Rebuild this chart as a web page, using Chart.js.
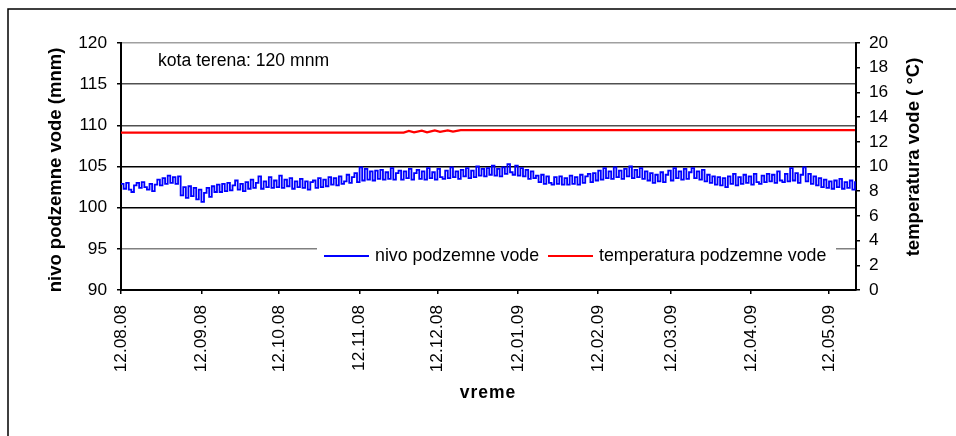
<!DOCTYPE html>
<html>
<head>
<meta charset="utf-8">
<script src="https://cdn.jsdelivr.net/npm/chart.js@4.4.1/dist/chart.umd.min.js"></script>
<style>
  html, body { margin: 0; padding: 0; background: #fff; }
  #wrap { width: 956px; height: 436px; position: relative; }
</style>
</head>
<body>
<div id="wrap"><canvas id="chart"></canvas></div>
<script>
// days counted from 12.08.2008
const tickDays = [0, 31, 61, 92, 122, 153, 184, 212, 243, 273];
const tickLabels = ['12.08.08', '12.09.08', '12.10.08', '12.11.08', '12.12.08',
                    '12.01.09', '12.02.09', '12.03.09', '12.04.09', '12.05.09'];

// groundwater level (mnm), one reading per day
const levelValues = [
  102.9, 102.3, 103.0, 102.2, 101.9, 102.7, 103.0, 102.4, 103.1, 102.5,
  102.2, 102.9, 102.0, 102.8, 103.4, 102.7, 103.6, 102.9, 103.9, 103.0,
  103.7, 102.9, 103.8, 101.5, 102.5, 101.2, 102.6, 101.4, 102.4, 101.0,
  102.2, 100.7, 101.8, 102.4, 101.3, 102.6, 101.9, 102.8, 101.9, 102.9,
  102.0, 103.0, 102.1, 102.7, 103.3, 102.2, 102.9, 102.0, 103.1, 102.3,
  103.4, 102.4, 103.0, 103.8, 102.3, 103.2, 102.5, 103.7, 102.4, 103.3,
  102.5, 103.9, 102.4, 103.4, 102.6, 103.6, 102.3, 103.2, 102.5, 103.5,
  102.4, 103.2, 102.2, 103.1, 103.3, 102.4, 103.6, 102.5, 103.4, 102.6,
  103.7, 102.8, 103.6, 102.7, 103.8, 102.9, 103.2, 104.0, 103.0, 103.7,
  104.2, 103.1, 104.9, 103.3, 104.7, 103.4, 104.4, 103.3, 104.5, 103.5,
  104.6, 103.4, 104.3, 103.5, 104.8, 103.4, 104.2, 104.5, 103.4, 104.4,
  103.6, 104.7, 103.4, 104.2, 104.6, 103.5, 104.4, 103.4, 104.8, 103.6,
  104.3, 103.4, 104.7, 103.7, 103.5, 104.5, 103.6, 104.9, 103.7, 104.4,
  103.5, 104.6, 103.8, 104.8, 103.6, 104.5, 103.7, 105.0, 103.9, 104.7,
  103.8, 104.8, 104.0, 105.1, 103.9, 104.7, 103.8, 104.9, 104.1, 105.3,
  104.3, 104.0, 105.1, 103.9, 104.8, 103.8, 104.6, 103.5, 104.4, 103.6,
  103.9, 103.1, 104.0, 102.9, 103.8, 103.0, 102.8, 103.7, 102.9, 103.8,
  102.8, 103.6, 102.8, 103.9, 102.9, 103.7, 102.8, 104.0, 103.0, 103.8,
  104.1, 103.1, 104.2, 103.3, 104.5, 103.4, 104.8, 103.6, 104.4, 103.5,
  104.9, 103.7, 104.5, 103.5, 104.7, 103.8, 105.0, 103.6, 104.6, 103.7,
  104.8, 103.5, 104.4, 103.3, 104.2, 103.0, 104.0, 103.2, 104.3, 103.1,
  104.0, 104.5, 103.3, 104.8, 103.6, 104.4, 103.4, 104.7, 103.5, 104.3,
  104.8, 103.6, 104.4, 103.4, 104.6, 103.2, 104.0, 103.0, 103.8, 102.8,
  103.7, 102.7, 103.6, 102.5, 103.8, 102.9, 104.1, 102.7, 103.7, 102.9,
  104.0, 103.0, 103.8, 102.8, 104.1, 103.1, 102.9, 103.9, 103.1, 104.1,
  103.2, 104.0, 103.0, 104.4, 103.3, 103.1, 104.1, 103.2, 104.8, 103.3,
  104.2, 103.0, 104.0, 104.9, 103.2, 104.1, 102.9, 103.8, 102.7, 103.6,
  102.5, 103.4, 102.4, 103.2, 102.3, 103.3, 102.5, 103.5, 102.3, 103.1,
  102.4, 103.3, 102.2, 103.2
];

// groundwater temperature (°C)
const tempDays   = [0, 109, 111, 113, 116, 118, 121, 123, 126, 128, 131, 134, 283];
const tempValues = [12.75, 12.75, 12.88, 12.76, 12.9, 12.77, 12.92, 12.8, 12.93, 12.82, 12.95, 12.95, 12.95];

const FONT = 'Liberation Sans, Arial, sans-serif';

const extras = {
  id: 'extras',
  beforeDraw(chart) {
    const ctx = chart.ctx;
    ctx.save();
    ctx.strokeStyle = '#000';
    ctx.lineWidth = 1.5;
    ctx.beginPath();
    ctx.moveTo(956, 9);
    ctx.lineTo(8, 9);
    ctx.lineTo(8, 436);
    ctx.stroke();
    ctx.restore();
  },
  afterDatasetsDraw(chart) {
    const ctx = chart.ctx;
    ctx.save();
    // legend box inside the plot
    ctx.fillStyle = '#fff';
    ctx.fillRect(317, 243, 519, 24);
    const ds = chart.data.datasets;
    const items = [{ x: 324, ds: ds[0] }, { x: 548, ds: ds[1] }];
    ctx.font = '17.8px ' + FONT;
    ctx.textBaseline = 'middle';
    items.forEach(it => {
      ctx.strokeStyle = it.ds.borderColor;
      ctx.lineWidth = 2;
      ctx.beginPath();
      ctx.moveTo(it.x, 256);
      ctx.lineTo(it.x + 45, 256);
      ctx.stroke();
      ctx.fillStyle = '#000';
      ctx.fillText(it.ds.label, it.x + 51, 256);
    });
    ctx.restore();
  },
  afterDraw(chart) {
    const ctx = chart.ctx;
    ctx.save();
    ctx.fillStyle = '#000';
    ctx.textBaseline = 'middle';
    ctx.font = '17.6px ' + FONT;
    ctx.textAlign = 'left';
    ctx.fillText('kota terena: 120 mnm', 158, 61);

    ctx.font = 'bold 18.5px ' + FONT;
    ctx.textAlign = 'center';
    ctx.save();
    ctx.translate(56, 170);
    ctx.rotate(-Math.PI / 2);
    ctx.fillText('nivo podzemne vode (mnm)', 0, 0);
    ctx.restore();

    ctx.save();
    ctx.translate(914, 157);
    ctx.rotate(-Math.PI / 2);
    ctx.fillText('temperatura vode ( °C)', 0, 0);
    ctx.restore();

    ctx.font = 'bold 17.5px ' + FONT;
    if ('letterSpacing' in ctx) ctx.letterSpacing = '1px';
    ctx.fillText('vreme', 488, 393);
    ctx.restore();
  }
};

const gridColor = (c) => {
  const v = c.tick.value;
  if (v === 120) return '#a0a0a0';
  if (v === 95) return '#808080';
  if (v >= 110) return '#505050';
  return '#000';
};

new Chart(document.getElementById('chart'), {
  type: 'line',
  data: {
    datasets: [{
      label: 'nivo podzemne vode',
      data: levelValues.map((v, i) => ({ x: i, y: v })),
      borderColor: '#0000ff',
      borderWidth: 1.8,
      pointRadius: 0,
      stepped: true,
      yAxisID: 'y'
    }, {
      label: 'temperatura podzemne vode',
      data: tempValues.map((v, i) => ({ x: tempDays[i], y: v })),
      borderColor: '#ff0000',
      borderWidth: 2.2,
      pointRadius: 0,
      tension: 0,
      yAxisID: 'y1'
    }]
  },
  options: {
    responsive: true,
    maintainAspectRatio: false,
    animation: false,
    layout: { padding: { top: 43, left: 0, right: 0, bottom: 0 } },
    plugins: {
      legend: { display: false },
      tooltip: { enabled: false }
    },
    scales: {
      x: {
        type: 'linear',
        position: 'bottom',
        min: 0,
        max: 283.4,
        afterBuildTicks: (scale) => { scale.ticks = tickDays.map(d => ({ value: d })); },
        afterFit: (scale) => { scale.height = 146; },
        ticks: {
          autoSkip: false,
          minRotation: 90,
          maxRotation: 90,
          padding: 11,
          color: '#000',
          font: { family: FONT, size: 17.3 },
          callback: (v) => tickLabels[tickDays.indexOf(v)]
        },
        grid: { drawOnChartArea: false, tickLength: 4, tickColor: '#000', lineWidth: 1.5 },
        border: { color: '#000', width: 2 }
      },
      y: {
        position: 'left',
        min: 90,
        max: 120,
        afterFit: (scale) => { scale.width = 121; },
        ticks: {
          stepSize: 5,
          padding: 10,
          color: '#000',
          font: { family: FONT, size: 17.3 }
        },
        grid: { color: gridColor, lineWidth: 1.5, tickLength: 4, tickColor: '#000' },
        border: { color: '#000', width: 2 }
      },
      y1: {
        position: 'right',
        min: 0,
        max: 20,
        afterFit: (scale) => { scale.width = 100; },
        ticks: {
          stepSize: 2,
          padding: 9,
          color: '#000',
          font: { family: FONT, size: 17.3 }
        },
        grid: { drawOnChartArea: false, tickLength: 4, tickColor: '#000', lineWidth: 1.5 },
        border: { color: '#000', width: 2 }
      }
    }
  },
  plugins: [extras]
});
</script>
</body>
</html>
